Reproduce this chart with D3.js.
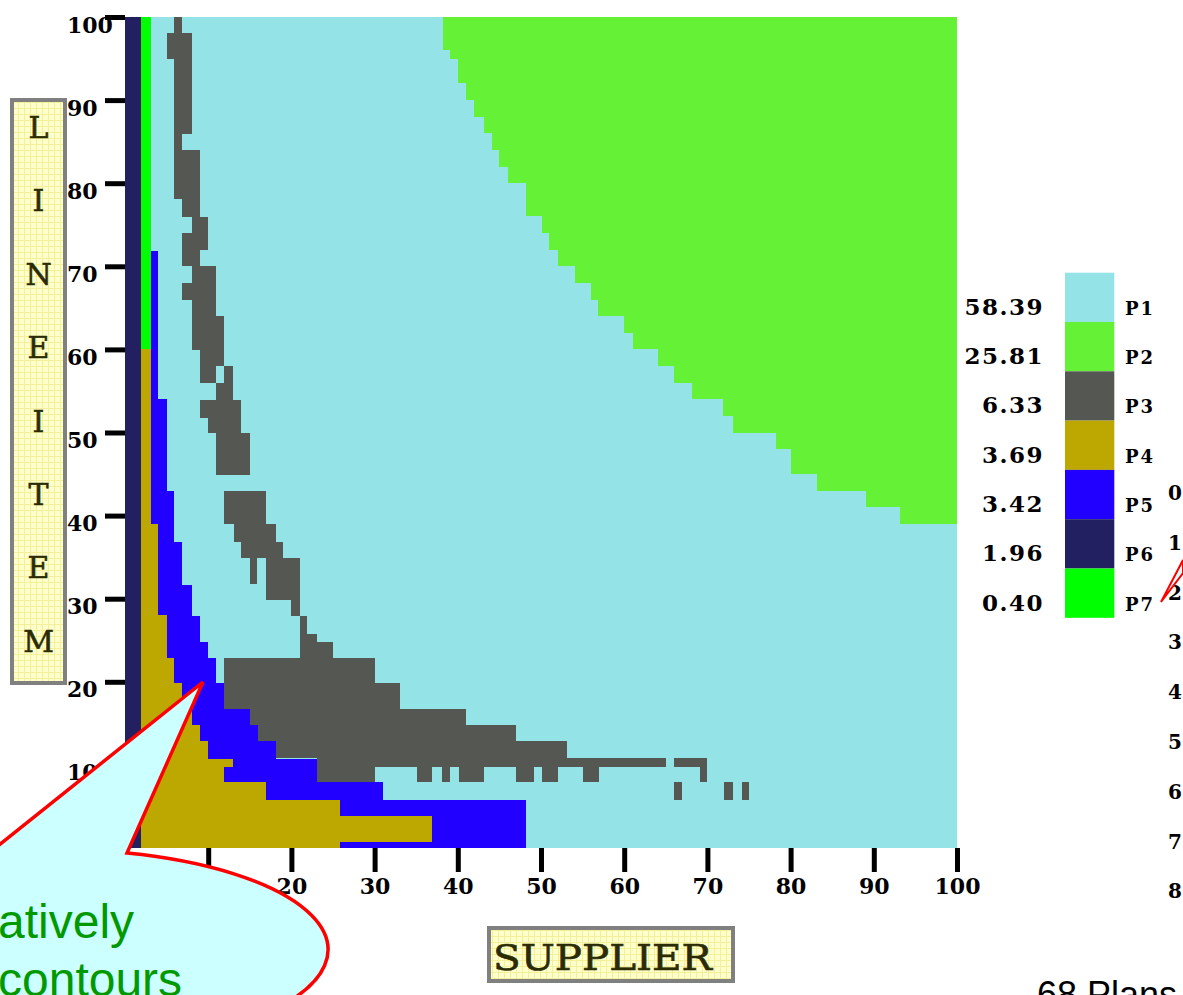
<!DOCTYPE html>
<html>
<head>
<meta charset="utf-8">
<script src="https://cdn.jsdelivr.net/npm/d3@7"></script>
<style>
  body { margin: 0; background: #fff; overflow: hidden; }
  svg { display: block; }
</style>
</head>
<body>
<svg id="chart"></svg>
<script>
// plan legend
var plans = ['P1', 'P2', 'P3', 'P4', 'P5', 'P6', 'P7'];
var planShare = ['58.39', '25.81', '6.33', '3.69', '3.42', '1.96', '0.40'];
var planColor = ['#94e3e6', '#65f135', '#555753', '#bca800', '#2200ff', '#222060', '#00ff00'];

var axisTicks = [0, 10, 20, 30, 40, 50, 60, 70, 80, 90, 100];

// regions, in (supplier, line item) units
var p1Cells = [[0, 100, 0, 100]];
var p6Cells = [[0, 1.9, 0, 100]];
var p7Cells = [[1.9, 3.1, 60, 100]];

// P2: [supplier from, item from, item to], runs to supplier 100
var p2Edge = [
  [38.2, 96, 100], [39.1, 95, 96], [40.0, 92, 95], [41.0, 90, 92], [41.9, 88, 90],
  [43.1, 86, 88], [44.1, 84, 86], [45.0, 82, 84], [46.0, 80, 82], [48.2, 76, 80],
  [50.1, 74, 76], [51.0, 72, 74], [52.0, 70, 72], [54.1, 68, 70], [56.0, 66, 68],
  [56.9, 64, 66], [60.0, 62, 64], [61.0, 60, 62], [64.1, 58, 60], [66.0, 56, 58],
  [68.2, 54, 56], [71.9, 52, 54], [73.1, 50, 52], [78.2, 48, 50], [80.1, 45, 48],
  [83.2, 43, 45], [89.1, 41, 43], [93.2, 39, 41]
];

// P5 and P4: [supplier to, item from, item to], start at supplier 1.9
var p5Edge = [
  [4.0, 54, 71.9], [5.0, 43, 54], [5.9, 36.8, 43], [6.9, 31.7, 36.8], [8.0, 27.9, 31.7],
  [9.0, 24.8, 27.9], [10.0, 22.9, 24.8], [10.9, 19.8, 22.9], [11.9, 16.7, 19.8],
  [15.0, 14.8, 16.7], [16.0, 12.9, 14.8], [18.1, 10.7, 12.9], [23.1, 7.9, 10.7],
  [31.0, 5.8, 7.9], [48.2, 0, 5.8]
];
var p4Edge = [
  [3.1, 39, 60], [4.0, 28, 39], [5.0, 22.9, 28], [5.9, 19.8, 22.9], [6.9, 16.7, 19.8],
  [8.0, 14.8, 16.7], [9.0, 12.9, 14.8], [10.0, 10.7, 12.9], [13.0, 9.8, 10.7],
  [11.9, 7.9, 9.8], [16.9, 5.8, 7.9], [25.9, 3.85, 5.8], [36.9, 0.76, 3.85], [25.9, 0, 0.76]
];

// P3: [supplier from, supplier to, item from, item to]
var p3Cells = [
  [5.9, 6.9, 98.1, 100], [5.0, 8.1, 95.0, 98.1], [5.9, 8.1, 85.9, 95.0], [5.9, 6.9, 84.0, 85.9],
  [5.9, 9.0, 78.1, 84.0], [6.9, 9.0, 75.9, 78.1], [8.1, 10.0, 74.0, 75.9], [6.9, 10.0, 72.0, 74.0],
  [6.9, 9.0, 70.0, 72.0], [8.1, 10.9, 68.0, 70.0], [6.9, 10.9, 65.9, 68.0], [8.1, 10.9, 64.0, 65.9],
  [8.1, 11.9, 59.9, 64.0], [9.0, 11.9, 58.0, 59.9], [9.0, 10.9, 55.9, 58.0], [11.9, 13.0, 55.9, 58.0],
  [10.9, 13.0, 53.9, 55.9], [9.0, 14.0, 51.8, 53.9], [10.0, 14.0, 49.9, 51.8], [10.9, 15.0, 44.9, 49.9],
  [11.9, 16.9, 39.0, 43.0], [13.1, 18.1, 36.8, 39.0], [14.0, 19.0, 34.9, 36.8],
  [15.0, 15.9, 31.8, 34.9], [16.9, 21.0, 31.8, 34.9], [16.9, 21.0, 29.9, 31.8],
  [20.0, 21.0, 27.9, 29.9], [21.0, 21.9, 25.8, 27.9], [21.0, 23.1, 24.8, 25.8], [21.0, 25.0, 22.9, 24.8],
  [11.9, 30.0, 19.8, 22.9], [11.9, 33.1, 16.7, 19.8], [15.0, 41.0, 14.8, 16.7], [15.9, 47.0, 12.9, 14.8],
  [18.1, 53.1, 10.8, 12.9], [23.1, 65.0, 9.8, 10.8], [66.0, 70.0, 9.8, 10.8],
  [23.1, 30.0, 7.9, 9.8], [35.1, 36.9, 7.9, 9.8], [38.1, 39.1, 7.9, 9.8], [40.1, 43.1, 7.9, 9.8],
  [47.0, 49.1, 7.9, 9.8], [50.1, 52.0, 7.9, 9.8], [55.1, 57.0, 7.9, 9.8], [69.1, 70.0, 7.9, 9.8],
  [66.0, 67.0, 5.8, 7.9], [72.0, 73.1, 5.8, 7.9], [74.1, 75.0, 5.8, 7.9]
];

var yLetters = ['L', 'I', 'N', 'E', 'I', 'T', 'E', 'M'];
var sideDigits = ['0', '1', '2', '3', '4', '5', '6', '7', '8'];

var W = 1183, H = 995;
var svg = d3.select('#chart').attr('width', W).attr('height', H);

var x = d3.scaleLinear().domain([0, 100]).range([125, 957]);
var y = d3.scaleLinear().domain([0, 100]).range([848, 17]);

var defs = svg.append('defs');
var pat = defs.append('pattern')
    .attr('id', 'paper')
    .attr('width', 6).attr('height', 6)
    .attr('patternUnits', 'userSpaceOnUse');
pat.append('rect').attr('width', 6).attr('height', 6).attr('fill', '#ffffcc');
pat.append('path').attr('d', 'M0 0.5H6M0.5 0V6')
    .attr('stroke', '#f4f09a').attr('stroke-width', 1);

// turn the edge lists into cells
var cells = [];
function addCells(list, plan) {
  list.forEach(function(c) { cells.push({plan: plan, x0: c[0], x1: c[1], y0: c[2], y1: c[3]}); });
}
addCells(p1Cells, 0);
addCells(p2Edge.map(function(d) { return [d[0], 100, d[1], d[2]]; }), 1);
addCells(p3Cells, 2);
addCells(p5Edge.map(function(d) { return [1.9, d[0], d[1], d[2]]; }), 4);
addCells(p4Edge.map(function(d) { return [1.9, d[0], d[1], d[2]]; }), 3);
addCells(p6Cells, 5);
addCells(p7Cells, 6);

svg.append('g')
    .attr('class', 'cells')
    .attr('shape-rendering', 'crispEdges')
  .selectAll('rect')
  .data(cells)
  .enter()
  .append('rect')
    .attr('x', function(d) { return x(d.x0); })
    .attr('y', function(d) { return y(d.y1); })
    .attr('width', function(d) { return x(d.x1) - x(d.x0); })
    .attr('height', function(d) { return y(d.y0) - y(d.y1); })
    .attr('fill', function(d) { return planColor[d.plan]; });

// axes
var numFont = '"DejaVu Serif", serif';

var gy = svg.append('g')
    .attr('transform', 'translate(125,0)')
    .call(d3.axisLeft(y).tickValues(axisTicks).tickSize(20).tickFormat(d3.format('d')));
gy.select('.domain').remove();
gy.selectAll('.tick line').attr('stroke', '#000').attr('stroke-width', 5).attr('x2', -20);
gy.selectAll('.tick text')
    .attr('x', -58).attr('dy', 15).attr('text-anchor', 'start')
    .attr('font-family', numFont).attr('font-weight', 'bold').attr('font-size', 22)
    .attr('fill', '#000');

var gx = svg.append('g')
    .attr('transform', 'translate(0,848)')
    .call(d3.axisBottom(x).tickValues(axisTicks).tickSize(24).tickFormat(d3.format('d')));
gx.select('.domain').remove();
gx.selectAll('.tick line').attr('stroke', '#000').attr('stroke-width', 5);
gx.selectAll('.tick text')
    .attr('y', 46).attr('dy', 0)
    .attr('font-family', numFont).attr('font-weight', 'bold').attr('font-size', 22)
    .attr('fill', '#000');

// legend
var legend = svg.append('g').attr('class', 'legend');
var items = legend.selectAll('g')
    .data(plans)
    .enter()
    .append('g')
    .attr('transform', function(d, i) { return 'translate(0,' + (272.7 + i * 49.3) + ')'; });
items.append('rect')
    .attr('x', 1065).attr('width', 49.3).attr('height', 49.3)
    .attr('fill', function(d, i) { return planColor[i]; });
items.append('text')
    .attr('x', 1044).attr('y', 42)
    .attr('text-anchor', 'end')
    .attr('font-family', numFont).attr('font-weight', 'bold').attr('font-size', 23)
    .attr('letter-spacing', 1.5)
    .text(function(d, i) { return planShare[i]; });
items.append('text')
    .attr('x', 1125).attr('y', 42)
    .attr('font-family', numFont).attr('font-weight', 'bold').attr('font-size', 18)
    .attr('letter-spacing', 2)
    .text(function(d) { return d; });

// axis title boxes
svg.append('rect')
    .attr('x', 12).attr('y', 100).attr('width', 53).attr('height', 583)
    .attr('fill', 'url(#paper)').attr('stroke', '#808080').attr('stroke-width', 4);
svg.append('g').selectAll('text')
    .data(yLetters)
    .enter()
    .append('text')
    .attr('x', 38.5)
    .attr('y', function(d, i) { return 138 + i * 73.4; })
    .attr('text-anchor', 'middle')
    .attr('font-family', numFont).attr('font-size', 30)
    .attr('stroke', '#2b2b00').attr('stroke-width', 0.6)
    .attr('fill', '#2b2b00')
    .text(function(d) { return d; });

svg.append('rect')
    .attr('x', 489).attr('y', 928).attr('width', 244).attr('height', 53)
    .attr('fill', 'url(#paper)').attr('stroke', '#808080').attr('stroke-width', 4);
svg.append('text')
    .attr('x', 493).attr('y', 970)
    .attr('font-family', numFont).attr('font-size', 36)
    .attr('textLength', 219).attr('lengthAdjust', 'spacingAndGlyphs')
    .attr('stroke', '#2b2b00').attr('stroke-width', 0.6)
    .attr('fill', '#2b2b00')
    .text('SUPPLIER');

// digits of the neighbouring figure, cut by the page edge
svg.append('g').selectAll('text')
    .data(sideDigits)
    .enter()
    .append('text')
    .attr('x', 1168)
    .attr('y', function(d, i) { return 500 + i * 49.8; })
    .attr('font-family', numFont).attr('font-weight', 'bold').attr('font-size', 20)
    .text(function(d) { return d; });

svg.append('path')
    .attr('d', 'M1161,602 L1183,560 L1183,573 Z')
    .attr('fill', '#ccffff').attr('stroke', '#ff0000').attr('stroke-width', 2);

svg.append('text')
    .attr('x', 1037).attr('y', 1007)
    .attr('font-family', '"Liberation Sans", Arial, sans-serif').attr('font-size', 36)
    .attr('fill', '#000')
    .text('68 Plans');

// callout
svg.append('path')
    .attr('d', 'M-11,853 L203,682 L127,853 A270,100 0 1 1 -11,853 Z')
    .attr('fill', '#ccffff').attr('stroke', '#ff0000').attr('stroke-width', 3.5)
    .attr('stroke-linejoin', 'miter');

svg.append('text')
    .attr('x', -2).attr('y', 938)
    .attr('font-family', '"Liberation Sans", Arial, sans-serif').attr('font-size', 48)
    .attr('fill', '#009900')
    .text('atively');
svg.append('text')
    .attr('x', -2).attr('y', 996)
    .attr('font-family', '"Liberation Sans", Arial, sans-serif').attr('font-size', 48)
    .attr('fill', '#009900')
    .text('contours');
</script>
</body>
</html>
